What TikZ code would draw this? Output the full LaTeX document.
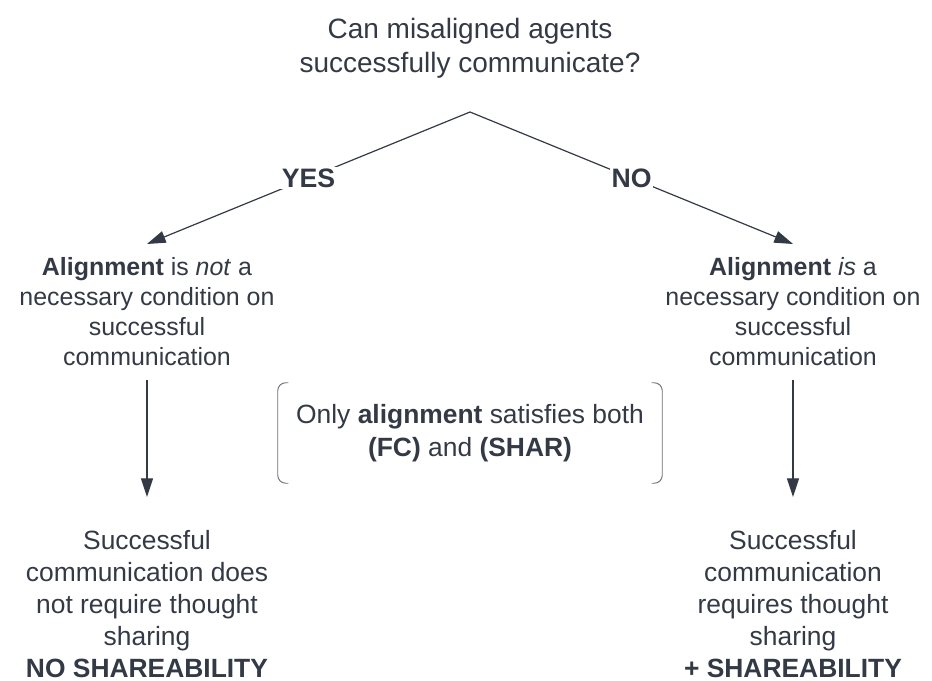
\documentclass[tikz,border=0pt]{standalone}
\usepackage{fontspec}
\setmainfont{Liberation Sans}
\usetikzlibrary{arrows.meta}
\definecolor{ink}{HTML}{333A45}
\definecolor{brgray}{HTML}{6B7079}
\tikzset{
txt/.style={text=ink, align=center, inner xsep=0pt, inner ysep=10pt, font=\fontsize{18.7}{22.5}\selectfont},
res/.style={txt, inner ysep=25pt, font=\fontsize{19.8}{23.9}\selectfont},
lab/.style={text=ink, fill=white, inner sep=1pt, font=\fontsize{20}{22}\selectfont\bfseries},
arr/.style={draw=ink, line width=0.9pt, -{Triangle[length=14pt,width=9pt]}},
brk/.style={draw=brgray, line width=0.7pt, rounded corners=6pt}
}
\begin{document}
\begin{tikzpicture}[x=0.75pt,y=-0.75pt]
\useasboundingbox (0,0) rectangle (932,681);

\node[txt, font=\fontsize{21}{25.5}\selectfont] (title) at (470,48) {Can misaligned agents\\successfully communicate?};
\coordinate (apex) at (470,112);

\node[txt, anchor=north] (notnec) at (147,244) {\textbf{Alignment} is \textit{not} a\\necessary condition on\\successful\\communication};
\node[txt, anchor=north] (isnec) at (793,244) {\textbf{Alignment} \textit{is} a\\necessary condition on\\successful\\communication};

\node[res, anchor=north] (noshare) at (147,497) {Successful\\communication does\\not require thought\\sharing\\\textbf{NO SHAREABILITY}};
\node[res, anchor=north] (share) at (793,497) {Successful\\communication\\requires thought\\sharing\\\textbf{+ SHAREABILITY}};

\node[txt, inner ysep=0pt, font=\fontsize{19.8}{24.7}\selectfont, minimum width=288pt, minimum height=75pt] (only) at (470,433) {Only \textbf{alignment} satisfies both\\\textbf{(FC)} and \textbf{(SHAR)}};

\draw[arr] (apex) -- (notnec.north) node[lab, pos=0.5] (yes) {YES};
\draw[arr] (apex) -- (isnec.north) node[lab, pos=0.5] (no) {NO};
\draw[arr] (notnec.south) -- (noshare.north);
\draw[arr] (isnec.south) -- (share.north);

\draw[brk] ([xshift=8pt]only.north west) -| (only.south west) -- ([xshift=8pt]only.south west);
\draw[brk] ([xshift=-8pt]only.north east) -| (only.south east) -- ([xshift=-8pt]only.south east);

\end{tikzpicture}
\end{document}
